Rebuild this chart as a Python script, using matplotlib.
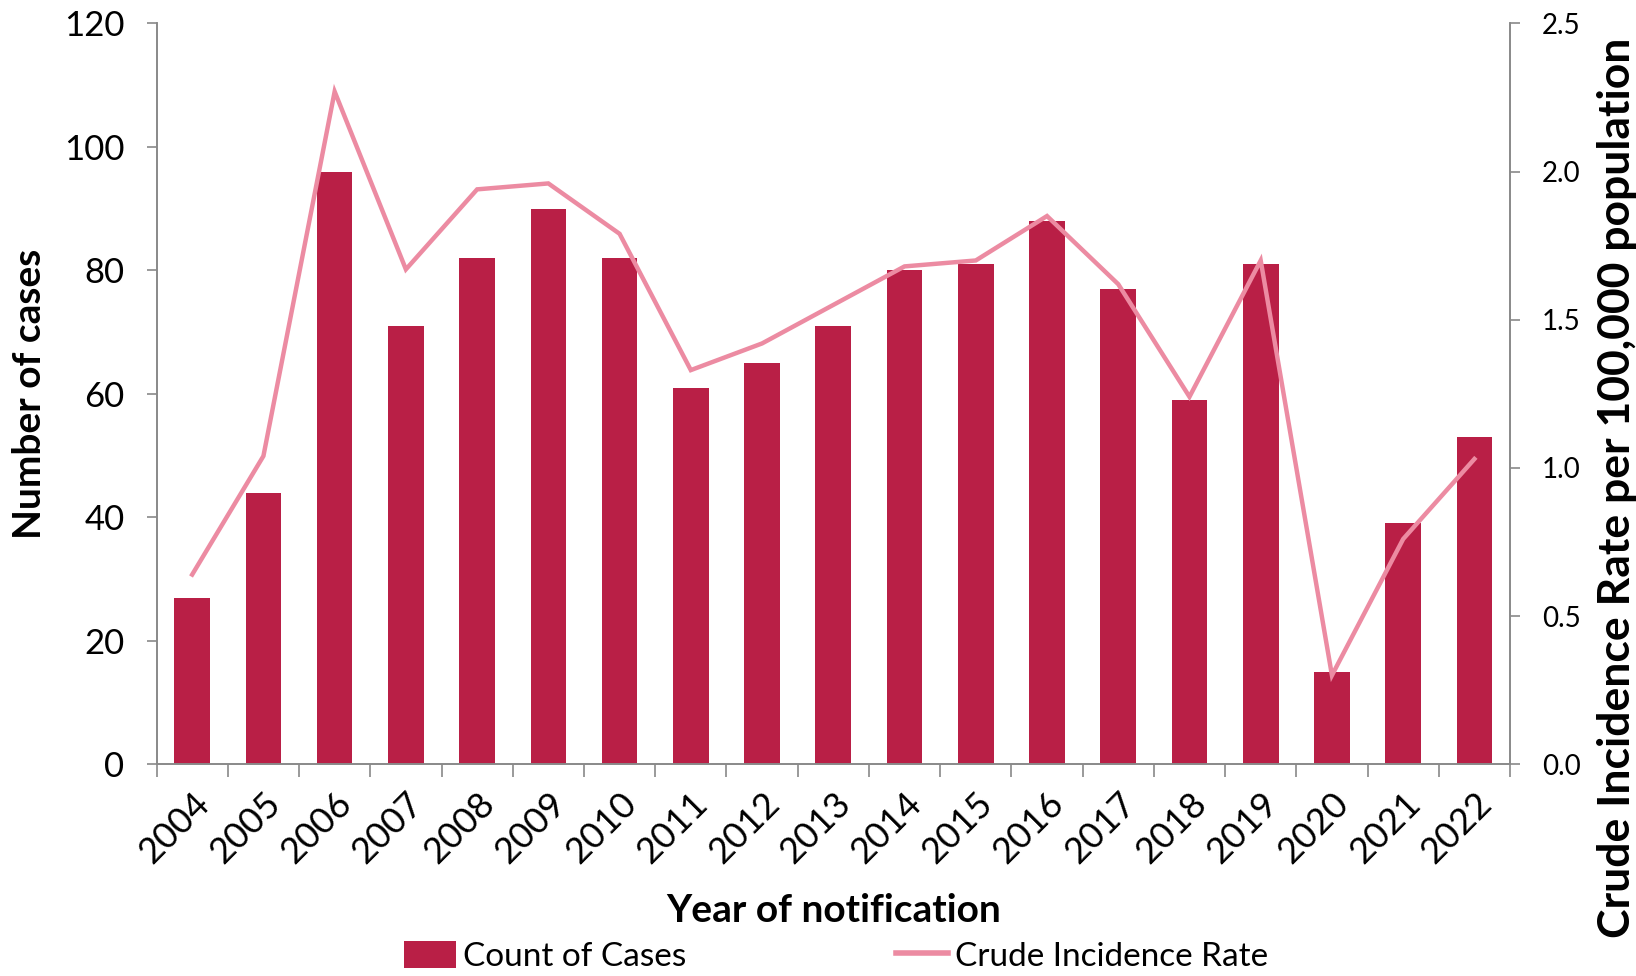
import numpy as np
import matplotlib.pyplot as plt
from matplotlib.lines import Line2D
from matplotlib.patches import Patch

plt.rcParams['font.family'] = ['Lato', 'DejaVu Sans']

# Data
years = [str(y) for y in range(2004, 2023)]
case_counts = [27, 44, 96, 71, 82, 90, 82, 61, 65, 71, 80, 81, 88, 77, 59, 81, 15, 39, 53]
crude_rate = [0.64, 1.04, 2.27, 1.67, 1.94, 1.96, 1.79, 1.33, 1.42, 1.55, 1.68, 1.70,
              1.85, 1.62, 1.24, 1.70, 0.30, 0.76, 1.03]
left_ticks = [0, 20, 40, 60, 80, 100, 120]
right_ticks = [0.0, 0.5, 1.0, 1.5, 2.0, 2.5]

BAR_COLOR = '#B91F46'
LINE_COLOR = '#EC8BA2'
AXIS_COLOR = '#898989'

fig = plt.figure(figsize=(16.36, 9.76), dpi=100)
ax = fig.add_axes([0.0957, 0.217, 0.8273, 0.759])
x = np.arange(len(years))

ax.bar(x, case_counts, width=0.5, color=BAR_COLOR, zorder=2)
ax.set_xlim(-0.5, len(years) - 0.5)
ax.set_ylim(0, 120)
ax.set_yticks(left_ticks)
ax.tick_params(axis='y', labelsize=25, length=7, width=1.2, color=AXIS_COLOR, pad=16)

# category labels at centres, tick marks at boundaries
ax.set_xticks(x)
ax.set_xticklabels(years, rotation=45, ha='right', rotation_mode='anchor', fontsize=26)
ax.tick_params(axis='x', which='major', length=0, pad=16)
ax.set_xticks(np.arange(-0.5, len(years)), minor=True)
ax.tick_params(axis='x', which='minor', length=9, width=1.2, color=AXIS_COLOR)

for side in ['left', 'bottom', 'right']:
    ax.spines[side].set_color(AXIS_COLOR)
    ax.spines[side].set_linewidth(1.2)
ax.spines['top'].set_visible(False)

ax.set_ylabel('Number of cases', fontsize=28, fontweight='bold', labelpad=12)
ax.set_xlabel('Year of notification', fontsize=28, fontweight='bold', labelpad=17)

ax2 = ax.twinx()
ax2.plot(x, crude_rate, color=LINE_COLOR, linewidth=3.2, solid_joinstyle='miter', zorder=3)
ax2.set_ylim(0, 2.5)
ax2.set_yticks(right_ticks)
ax2.set_yticklabels([f'{t:.1f}' for t in right_ticks])
ax2.tick_params(axis='y', labelsize=20, length=7, width=1.2, color=AXIS_COLOR, pad=16)
for side in ['left', 'bottom', 'right']:
    ax2.spines[side].set_color(AXIS_COLOR)
    ax2.spines[side].set_linewidth(1.2)
ax2.spines['top'].set_visible(False)
ax2.set_ylabel('Crude Incidence Rate per 100,000 population', fontsize=32,
               fontweight='bold')
ax2.yaxis.label.set(ha='center', va='center')
ax2.yaxis.set_label_coords(1.079, 0.373)

handles = [Patch(facecolor=BAR_COLOR, label='Count of Cases'),
           Line2D([0], [0], color=LINE_COLOR, linewidth=4, label='Crude Incidence Rate')]
fig.legend(handles=handles, loc='center', bbox_to_anchor=(0.511, 0.02), ncol=2,
           frameon=False, fontsize=24, columnspacing=6.3, handlelength=1.57,
           handletextpad=0.2, handleheight=0.9)

fig.savefig('out.png', dpi=100)
